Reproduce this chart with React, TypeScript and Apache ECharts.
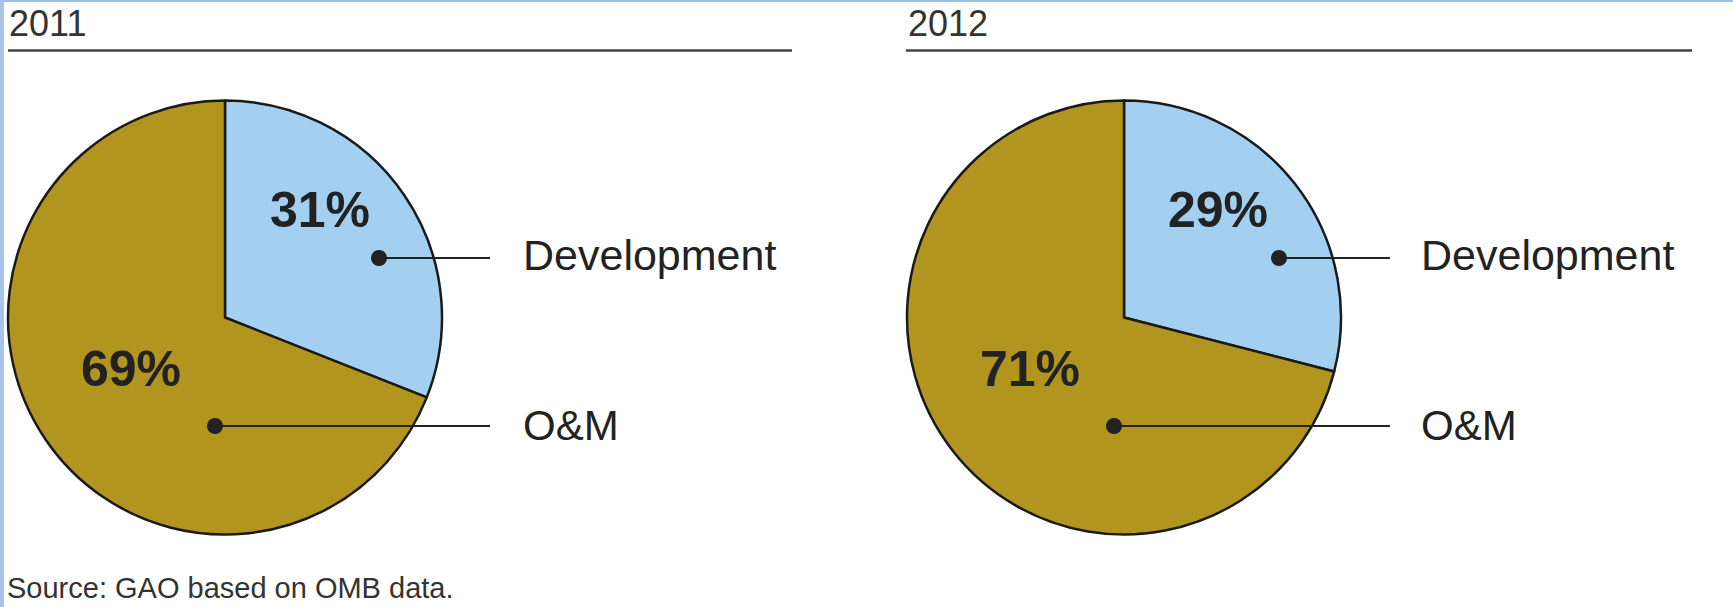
import React, { useEffect, useRef } from "react";
import * as echarts from "echarts";

const years = ["2011", "2012"];
const categories = ["Development", "O&M"];
const dev = [31, 29];
const om = [69, 71];
const source = "Source: GAO based on OMB data.";

const FONT = "Liberation Sans";
const BLUE = "#A3CFF0";
const GOLD = "#B2951F";
const INK = "#222222";

function txt(x: number, y: number, text: string, size: number, opts: any = {}) {
  return {
    type: "text",
    x,
    y,
    z: 10,
    style: {
      text,
      fontFamily: FONT,
      fontSize: size,
      fontWeight: opts.bold ? "bold" : "normal",
      fill: opts.fill || INK,
      align: opts.align || "left",
      verticalAlign: "middle",
    },
  };
}

export default function App() {
  const ref = useRef<HTMLDivElement>(null);
  useEffect(() => {
    document.body.style.margin = "0";
    const chart = echarts.init(ref.current!, null, { renderer: "svg" });
    const centers = [225, 1124];
    const cy = 317.5;
    const R = 217;
    const devDot = [[379, 258], [1279, 258]];
    const omDot = [[215, 426], [1114, 426]];
    const lineEnd = [490, 1390];
    const labelX = [523, 1421];
    const devPct = [[320, 210], [1218, 210]];
    const omPct = [[131, 369], [1030, 369]];
    const titleX = [9, 908];
    const ruleX = [[8, 792], [906, 1692]];

    const graphics: any[] = [
      { type: "rect", shape: { x: 0, y: 0, width: 1733, height: 2 }, style: { fill: "#9DBDE8" } },
      { type: "rect", shape: { x: 0, y: 0, width: 4, height: 607 }, style: { fill: "#A9C4EC" } },
      txt(7, 588, source, 29, { fill: "#333" }),
    ];
    years.forEach((yr, i) => {
      graphics.push(
        txt(titleX[i], 23, yr, 36, { fill: "#333" }),
        { type: "line", shape: { x1: ruleX[i][0], y1: 50.5, x2: ruleX[i][1], y2: 50.5 }, style: { stroke: "#444", lineWidth: 2.5 } },
        txt(devPct[i][0], devPct[i][1], `${dev[i]}%`, 50, { bold: true, align: "center" }),
        txt(omPct[i][0], omPct[i][1], `${om[i]}%`, 50, { bold: true, align: "center" }),
        { type: "line", shape: { x1: devDot[i][0], y1: devDot[i][1], x2: lineEnd[i], y2: devDot[i][1] }, style: { stroke: INK, lineWidth: 2 }, z: 10 },
        { type: "line", shape: { x1: omDot[i][0], y1: omDot[i][1], x2: lineEnd[i], y2: omDot[i][1] }, style: { stroke: INK, lineWidth: 2 }, z: 10 },
        { type: "circle", shape: { cx: devDot[i][0], cy: devDot[i][1], r: 8 }, style: { fill: INK }, z: 10 },
        { type: "circle", shape: { cx: omDot[i][0], cy: omDot[i][1], r: 8 }, style: { fill: INK }, z: 10 },
        txt(labelX[i], 255, categories[0], 43),
        txt(labelX[i], 425, categories[1], 42),
      );
    });

    chart.setOption({
      animation: false,
      backgroundColor: "#ffffff",
      series: years.map((yr, i) => ({
        type: "pie",
        name: yr,
        center: [centers[i], cy],
        radius: [0, R],
        startAngle: 90,
        clockwise: true,
        label: { show: false },
        labelLine: { show: false },
        silent: true,
        itemStyle: { borderColor: "#1a1a1a", borderWidth: 2.5 },
        data: [
          { name: categories[0], value: dev[i], itemStyle: { color: BLUE } },
          { name: categories[1], value: om[i], itemStyle: { color: GOLD } },
        ],
      })),
      graphic: graphics,
    });
    return () => chart.dispose();
  }, []);
  return <div ref={ref} style={{ width: 1733, height: 607 }} />;
}
